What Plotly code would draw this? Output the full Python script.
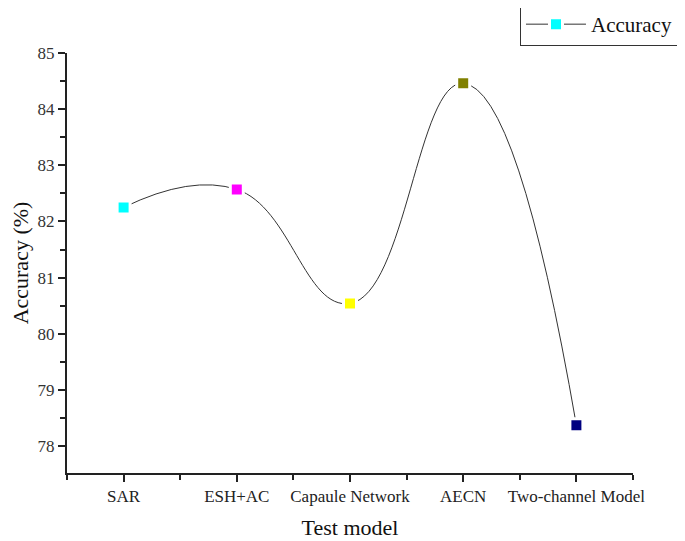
import plotly.graph_objects as go

models = ["SAR", "ESH+AC", "Capaule Network", "AECN", "Two-channel Model"]
accuracy = [82.25, 82.57, 80.54, 84.46, 78.37]
marker_colors = ["#00FFFF", "#FF00FF", "#FFFF00", "#808000", "#000080"]
y_ticks = [78, 79, 80, 81, 82, 83, 84, 85]

xpos = list(range(len(models)))

fig = go.Figure()
fig.add_trace(go.Scatter(
    x=xpos, y=accuracy, mode="lines+markers", name="Accuracy",
    line=dict(shape="spline", smoothing=1.3, color="#333333", width=1),
    marker=dict(symbol="square", size=13, color=marker_colors,
                line=dict(color="white", width=3)),
    showlegend=True,
))

font = "Liberation Serif, Times New Roman, serif"
fig.update_layout(
    width=677, height=533,
    margin=dict(l=59, r=52, t=45, b=68, autoexpand=False),
    plot_bgcolor="white", paper_bgcolor="white",
    font=dict(family=font, color="#222222"),
    showlegend=True,
    legend=dict(x=1.0795, y=1.119, xanchor="right", yanchor="top",
                bordercolor="#333333", borderwidth=1, bgcolor="white",
                font=dict(size=21, color="#111111"),
                itemwidth=60, tracegroupgap=0),
    xaxis=dict(
        range=[-0.5, 4.5], tickmode="array", tickvals=xpos, ticktext=models,
        showgrid=False, zeroline=False,
        showline=True, linecolor="#222222", linewidth=2,
        ticks="outside", ticklen=7, tickwidth=1.5, tickcolor="#222222",
        tickfont=dict(size=17, color="#222222"),
        minor=dict(tick0=-0.5, dtick=1, ticks="outside", ticklen=5,
                   tickwidth=1.5, tickcolor="#222222", showgrid=False),
        title=dict(text="Test model", font=dict(size=22, color="#111111"), standoff=14),
    ),
    yaxis=dict(
        range=[77.52, 85], tickmode="array", tickvals=y_ticks,
        showgrid=False, zeroline=False,
        showline=True, linecolor="#222222", linewidth=2,
        ticks="outside", ticklen=7, tickwidth=1.5, tickcolor="#222222",
        tickfont=dict(size=17, color="#333333"),
        minor=dict(tick0=77.5, dtick=0.5, ticks="outside", ticklen=5,
                   tickwidth=1.5, tickcolor="#222222", showgrid=False),
        title=dict(text="Accuracy (%)", font=dict(size=22, color="#111111"), standoff=6),
    ),
)

fig.write_html("out.html")
